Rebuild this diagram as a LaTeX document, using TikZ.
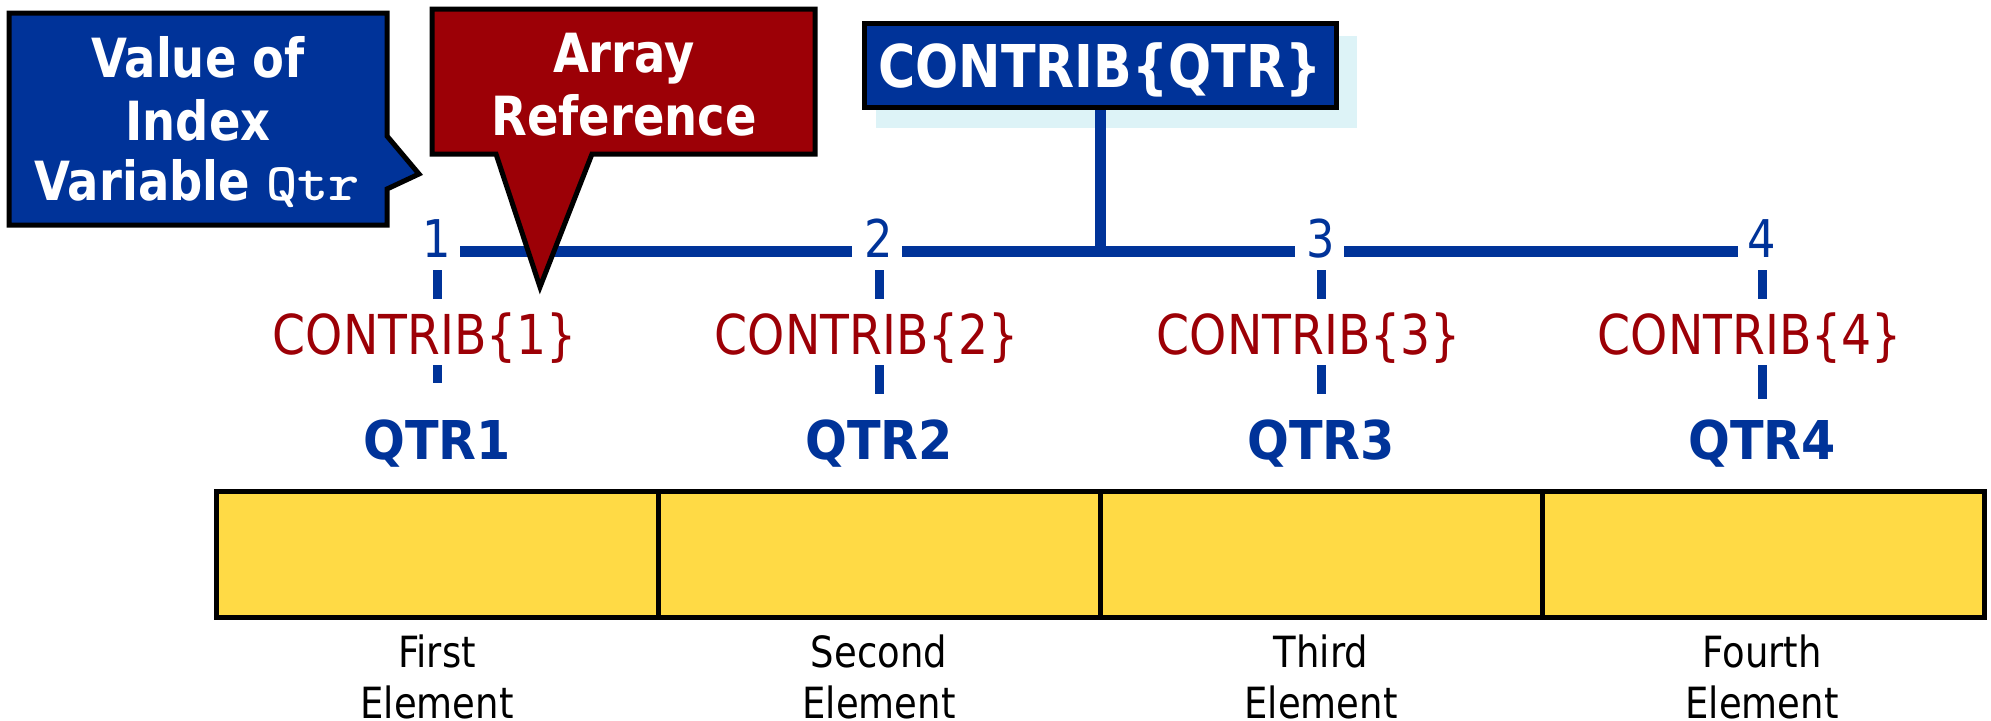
\documentclass[tikz,border=0pt]{standalone}
\usepackage{fontspec}
\setmainfont{DejaVu Sans}[FakeStretch=0.86]
\newfontfamily\cfont{DejaVu Sans}[FakeStretch=0.86]
\newfontfamily\wfont{DejaVu Sans}[FakeStretch=0.92]
\newfontfamily\qfont{lmmonolt10-bold.otf}[FakeStretch=1.12]
\definecolor{qblue}{HTML}{003399}
\definecolor{qred}{HTML}{9C0006}
\definecolor{qyellow}{HTML}{FFDA45}
\definecolor{qshadow}{HTML}{DDF3F7}
\tikzset{
  hline/.style={draw=qblue, line width=11pt},
  dashln/.style={draw=qblue, line width=9pt},
  callout/.style={draw=black, line width=5pt, line join=miter},
  calltext/.style={anchor=base, text=white, inner sep=0pt, font=\fontsize{54}{62}\selectfont\bfseries},
  digit/.style={anchor=base, text=qblue, inner sep=0pt, font=\fontsize{52}{60}\selectfont},
  ctext/.style={anchor=base, text=qred, inner sep=0pt, font=\fontsize{55}{64}\selectfont\cfont},
  qtext/.style={anchor=base, text=qblue, inner sep=0pt, font=\fontsize{53.5}{62}\selectfont\wfont\bfseries},
  elabel/.style={anchor=base, text=black, inner sep=0pt, font=\fontsize{43}{50}\selectfont},
  cell/.style={draw=black, fill=qyellow, line width=5pt, minimum width=442pt, minimum height=126pt, inner sep=0pt},
  qbox/.style={draw=black, fill=qblue, line width=5pt, minimum width=472pt, minimum height=84pt, inner sep=0pt}
}
\begin{document}
\begin{tikzpicture}[x=1pt,y=-1pt]
\useasboundingbox (0,0) rectangle (1991,720);

% CONTRIB{QTR} box with shadow
\fill[qshadow] (876,36) rectangle (1357,128);
\node[qbox] (cq) at (1100,65.5) {};
\node[anchor=base, text=white, inner sep=0pt, font=\fontsize{59}{68}\selectfont\bfseries] (cqt) at (1100,87) {CONTRIB\{QTR\}};

% digits
\node[digit] (d1) at (437,257) {1};
\node[digit] (d2) at (879,257) {2};
\node[digit] (d3) at (1321,257) {3};
\node[digit] (d4) at (1762,257) {4};
\coordinate (j) at (1100,251);

% index line
\draw[hline] (cq.south) -- (j);
\draw[hline] (460,251) coordinate (a1) -- (852,251) coordinate (a2);
\draw[hline] (902,251) coordinate (b1) -- (j);
\draw[hline] (j) -- (1295,251) coordinate (b2);
\draw[hline] (1344,251) coordinate (c1) -- (1738,251) coordinate (c2);

% callouts
\draw[callout, fill=qblue] (9,13) -- (387,13) -- (387,136) -- (419,174) -- (387,189) -- (387,225) -- (9,225) -- cycle;
\node[calltext] (v1) at (198,77) {Value of};
\node[calltext] (v2) at (198,140) {Index};
\node[calltext] (v3) at (197,200) {Variable {\qfont\fontsize{53}{60}\selectfont Qtr}};

\draw[callout, fill=qred] (432,9) -- (815,9) -- (815,154) -- (592,154) -- (540,287) -- (496,154) -- (432,154) -- cycle;
\node[calltext] (r1) at (624,72) {Array};
\node[calltext] (r2) at (624,135) {Reference};

% CONTRIB texts
\node[ctext] (c1t) at (425,354) {CONTRIB\{1\}};
\node[ctext] (c2t) at (867,354) {CONTRIB\{2\}};
\node[ctext] (c3t) at (1309,354) {CONTRIB\{3\}};
\node[ctext] (c4t) at (1750,354) {CONTRIB\{4\}};

% QTR texts
\node[qtext] (q1) at (437,459) {QTR1};
\node[qtext] (q2) at (879,459) {QTR2};
\node[qtext] (q3) at (1321,459) {QTR3};
\node[qtext] (q4) at (1762,459) {QTR4};

% dashes
\foreach \d/\e in {d1/126, d2/137, d3/137, d4/142}{
  \draw[dashln] ([yshift=-13pt]\d.base) -- ([yshift=-42pt]\d.base);
  \draw[dashln] ([yshift=-108pt]\d.base) -- ([yshift=-\e pt]\d.base);
}

% cells
\node[cell] (e1) at (437,554.5) {};
\node[cell] (e2) at (879,554.5) {};
\node[cell] (e3) at (1321,554.5) {};
\node[cell] (e4) at (1763,554.5) {};

% labels
\node[elabel] (l1a) at (437,667) {First};
\node[elabel] (l1b) at (437,718) {Element};
\node[elabel] (l2a) at (879,667) {Second};
\node[elabel] (l2b) at (879,718) {Element};
\node[elabel] (l3a) at (1321,667) {Third};
\node[elabel] (l3b) at (1321,718) {Element};
\node[elabel] (l4a) at (1762,667) {Fourth};
\node[elabel] (l4b) at (1762,718) {Element};
\end{tikzpicture}
\end{document}
